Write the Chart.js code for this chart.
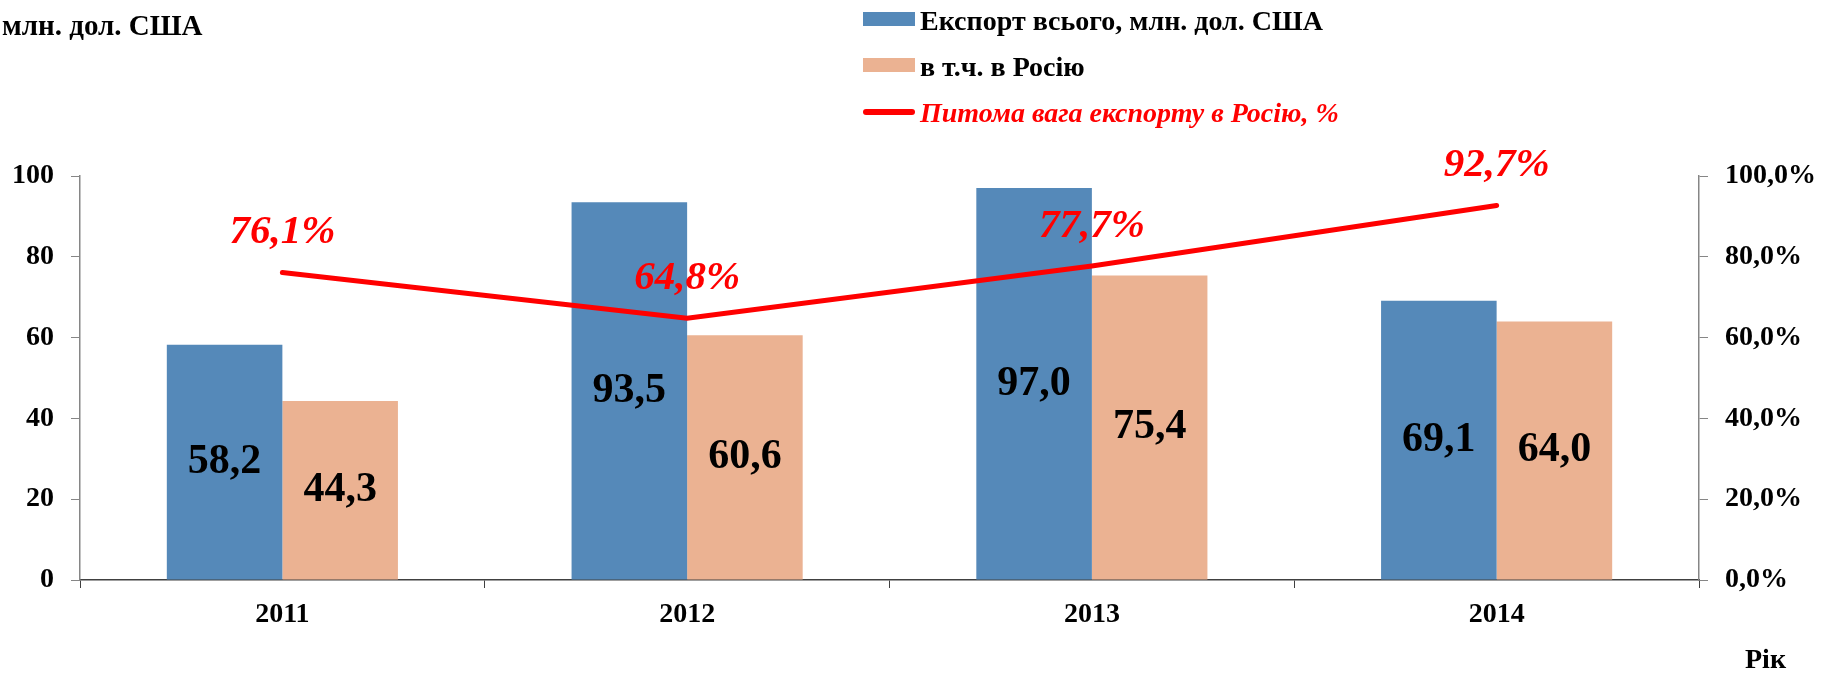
<!DOCTYPE html>
<html>
<head>
<meta charset="utf-8">
<script src="https://cdn.jsdelivr.net/npm/chart.js@4.4.1/dist/chart.umd.min.js"></script>
<style>
  body { margin: 0; background: #fff; }
  #wrap { position: relative; width: 1834px; height: 681px; font-family: "Liberation Serif", "Times New Roman", serif; }
  .txt { position: absolute; font-weight: bold; font-size: 28px; line-height: 28px; white-space: nowrap; color: #000; }
  .box { position: absolute; width: 52px; height: 14px; }
</style>
</head>
<body>
<div id="wrap">
  <canvas id="exportChart" width="1834" height="681"></canvas>
  <div class="txt" style="left:2px; top:11px; font-size:29px;">млн. дол. США</div>
  <div class="box" style="left:863px; top:12px; background:#5589B9;"></div>
  <div class="txt" style="left:920px; top:7px;">Експорт всього, млн. дол. США</div>
  <div class="box" style="left:863px; top:58px; background:#EBB292;"></div>
  <div class="txt" style="left:920px; top:53px;">в т.ч. в Росію</div>
  <div style="position:absolute; left:863px; top:109px; width:52px; height:6px; border-radius:3px; background:#FF0000;"></div>
  <div class="txt" style="left:920px; top:99px; color:#FF0000; font-style:italic;">Питома вага експорту в Росію, %</div>
  <div class="txt" style="left:1745px; top:645px;">Рік</div>
</div>
<script>
// --- ДАНІ ---
const years = ["2011", "2012", "2013", "2014"];
const exportTotal = [58.2, 93.5, 97.0, 69.1];
const exportRussia = [44.3, 60.6, 75.4, 64.0];
const russiaShare = [76.1, 64.8, 77.7, 92.7];
const leftTicks = [0, 20, 40, 60, 80, 100];

const FONT = '"Liberation Serif", "Times New Roman", serif';
const fmt = (v, d) => v.toFixed(d).replace('.', ',');

// --- ПІДПИСИ ЗНАЧЕНЬ ---
const valueLabels = {
    id: 'valueLabels',
    afterDatasetsDraw(chart) {
        const ctx = chart.ctx;
        chart.data.datasets.forEach((ds, i) => {
            const meta = chart.getDatasetMeta(i);
            meta.data.forEach((el, j) => {
                const v = ds.data[j];
                ctx.save();
                ctx.textAlign = 'center';
                ctx.textBaseline = 'middle';
                if (ds.type === 'line') {
                    ctx.font = 'italic bold 41px ' + FONT;
                    ctx.fillStyle = '#FF0000';
                    ctx.fillText(fmt(v, 1) + '%', el.x, el.y - 40);
                } else {
                    ctx.font = 'bold 42px ' + FONT;
                    ctx.fillStyle = '#000';
                    ctx.fillText(fmt(v, 1), el.x, (el.y + el.base) / 2);
                }
                ctx.restore();
            });
        });
    }
};

const tickFont = { family: FONT, size: 28, weight: 'bold' };

new Chart(document.getElementById('exportChart'), {
    data: {
        labels: years,
        datasets: [
            {
                type: 'line',
                label: 'Питома вага експорту в Росію, %',
                data: russiaShare,
                yAxisID: 'y1',
                borderColor: '#FF0000',
                borderWidth: 5,
                borderCapStyle: 'round',
                pointRadius: 0,
                order: 0
            },
            {
                type: 'bar',
                label: 'Експорт всього, млн. дол. США',
                data: exportTotal,
                backgroundColor: '#5589B9',
                categoryPercentage: 0.571,
                barPercentage: 1,
                order: 1
            },
            {
                type: 'bar',
                label: 'в т.ч. в Росію',
                data: exportRussia,
                backgroundColor: '#EBB292',
                categoryPercentage: 0.571,
                barPercentage: 1,
                order: 1
            }
        ]
    },
    options: {
        responsive: false,
        animation: false,
        layout: { padding: { top: 176, left: 0, right: 0, bottom: 0 } },
        plugins: { legend: { display: false }, tooltip: { enabled: false } },
        scales: {
            x: {
                afterFit: s => { s.height = 101; },
                grid: { offset: true, drawOnChartArea: false, tickLength: 8, color: '#404040' },
                border: { color: '#404040', width: 1.5 },
                ticks: { font: tickFont, color: '#000', padding: 10 }
            },
            y: {
                position: 'left',
                min: 0, max: 100,
                afterFit: s => { s.width = 80; },
                afterBuildTicks: s => { s.ticks = leftTicks.map(v => ({ value: v })); },
                grid: { drawOnChartArea: false, tickLength: 9, color: '#868686' },
                border: { color: '#868686', width: 1.5 },
                ticks: { font: tickFont, color: '#000', padding: 17 }
            },
            y1: {
                position: 'right',
                min: 0, max: 100,
                afterFit: s => { s.width = 135; },
                afterBuildTicks: s => { s.ticks = leftTicks.map(v => ({ value: v })); },
                grid: { drawOnChartArea: false, tickLength: 9, color: '#868686' },
                border: { color: '#868686', width: 1.5 },
                ticks: { font: tickFont, color: '#000', padding: 17, callback: v => fmt(v, 1) + '%' }
            }
        }
    },
    plugins: [valueLabels]
});
</script>
</body>
</html>
